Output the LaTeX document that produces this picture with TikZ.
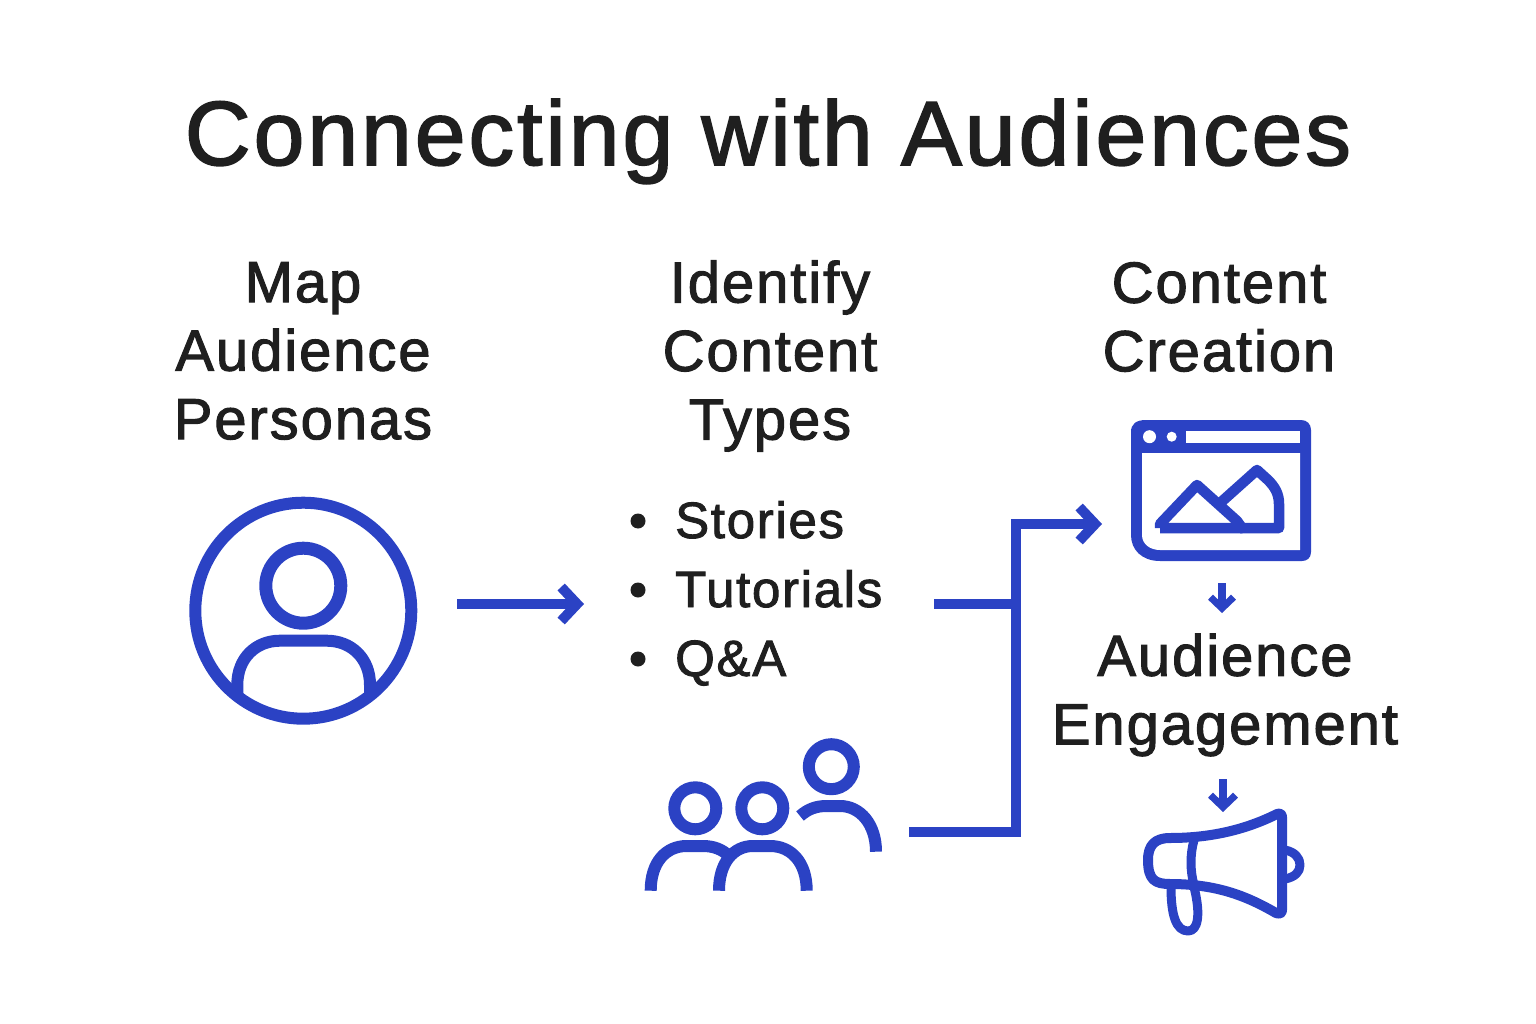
\documentclass[tikz,border=0pt]{standalone}
\usepackage{fontspec}
\setmainfont[FakeBold=1.8,LetterSpace=3.3]{Liberation Sans}
\usetikzlibrary{arrows.meta,positioning}
\definecolor{iconblue}{RGB}{43,66,196}
\definecolor{inkgray}{RGB}{31,31,31}

\begin{document}
\begin{tikzpicture}[
    x=1pt,
    y=-1pt,
    node distance=69pt,
    >={Straight Barb[length=16pt,width=34pt,line width=10pt]},
    title/.style={
		font=\fontsize{91.2}{96}\selectfont,
		text=inkgray,
		anchor=base,
		inner sep=0pt
	},
	head/.style={
		font=\fontsize{58}{68.5}\selectfont,
		text=inkgray,
		align=center,
		inner sep=0pt
	},
	item/.style={
		font=\fontsize{51}{60}\selectfont,
		text=inkgray,
		anchor=base west,
		inner sep=0pt
	},
	bullet/.style={
		circle,
		fill=inkgray,
		minimum size=15pt,
		inner sep=0pt
	},
	icon/.style={
		draw=iconblue,
		line width=12pt,
		line join=round
	},
	flow/.style={
		draw=iconblue,
		line width=9.5pt,
		line join=miter
	},
	small/.style={
		draw=iconblue,
		line width=8.5pt
	}
  ]

 \useasboundingbox (0,0) rectangle (1536,1024);

 \node [title] (title) at (768,165) {Connecting with Audiences};

 % // The three headings
 \node [head] (map) at (303,351) {Map\\Audience\\Personas};
 \node [head] (identify) at (770,356) {Identify\\Content\\Types};
 \node [head] (creation) at (1219,317) {Content\\Creation};
 \node [head] (engagement) at (1225,695) {Audience\\Engagement};

 % // The list
 \node [item] (stories) at (675,538) {Stories};
 \node [item] (tutorials) at (675,607) {Tutorials};
 \node [item] (qa) at (675,676) {Q\&A};
 \node [bullet] (b1) at (638,521) {};
 \node [bullet, below of=b1] (b2) {};
 \node [bullet, below of=b2] (b3) {};

 % // The persona
 \node [circle, icon, minimum size=216pt, inner sep=0pt] (persona) at (303.3,610.7) {};
 \node [circle, icon, line width=13pt, minimum size=75pt, inner sep=0pt] (personahead) at (303.3,585.7) {};
 \draw [icon, line width=12pt] (237.3,695) -- (237.3,685) .. controls (237.3,658) and (256,640.7) .. (280,640.7)
    -- (326.7,640.7) .. controls (351,640.7) and (370,658) .. (370,685) -- (370,695);

 % // The group of people
 \node [circle, icon, minimum size=42pt, inner sep=0pt] (headA) at (695.3,808.3) {};
 \node [circle, icon, minimum size=42pt, inner sep=0pt] (headB) at (762.3,808.3) {};
 \node [circle, icon, minimum size=45pt, inner sep=0pt] (headC) at (831.3,766.7) {};
 \draw [icon] (650.7,890.7) .. controls (650.7,862) and (666,846) .. (686.7,846)
    -- (703,846) .. controls (713,846) and (722,849) .. (729,856);
 \draw [icon] (719,890.7) .. controls (719,862) and (734,846) .. (753,846)
    -- (770,846) .. controls (791,846) and (806.7,862) .. (806.7,890.7);
 \draw [icon] (800,816) .. controls (808,809) and (816,806) .. (826.7,806)
    -- (840,806) .. controls (860,806) and (876,824) .. (876,851.7);

 % // The browser window
 \fill [iconblue] (1131,432) .. controls (1131,424) and (1136,420) .. (1146,420) -- (1301,420)
    .. controls (1307,420) and (1311,424) .. (1311,430) -- (1311,552) .. controls (1311,558) and (1307,561) .. (1302,561)
    -- (1160,561) .. controls (1142,561) and (1131,550) .. (1131,535) -- cycle;
 \fill [white] (1142,453) -- (1300,453) -- (1300,550) -- (1160,550) .. controls (1150,550) and (1142,544) .. (1142,535) -- cycle;
 \fill [white] (1186,431) rectangle (1300,443);
 \fill [white] (1149.5,436.7) circle [radius=6.5];
 \fill [white] (1171.7,436.7) circle [radius=5];
 \draw [icon, line width=10.5pt] (1160,528) -- (1160,524) -- (1197,485) -- (1237,521) -- (1242,528) -- (1160,528);
 \draw [icon, line width=10.5pt] (1219,504) -- (1257,470) -- (1268,480) .. controls (1275,487) and (1279,494) .. (1279,504)
    -- (1279,528) -- (1240,528);

 % // The megaphone
 \draw [icon, line width=10pt] (1170,838) .. controls (1210,838) and (1245,830) .. (1277,814)
    .. controls (1280,813) and (1282,814) .. (1282,817) -- (1282,910) .. controls (1282,914) and (1279,914) .. (1276,913)
    .. controls (1245,895) and (1215,884) .. (1170,884) .. controls (1155,884) and (1148,880) .. (1148,860)
    .. controls (1148,845) and (1155,838) .. (1170,838) -- cycle;
 \draw [icon, line width=9pt] (1194,840) .. controls (1190,855) and (1190,870) .. (1194,885);
 \draw [icon, line width=9pt] (1171,887) .. controls (1171,915) and (1176,931) .. (1188,931)
    .. controls (1198,931) and (1201,915) .. (1194,887);
 \draw [icon, line width=9pt] (1285,850) .. controls (1295,852) and (1300,858) .. (1300,865)
    .. controls (1300,872) and (1295,877) .. (1285,879);

 % // The connectors
 \coordinate (listout) at (934,604);
 \coordinate (joinA) at (1016,604);
 \coordinate (peopleout) at (909,832);
 \coordinate (joinB) at (1016,832);
 \coordinate (joinC) at (1016,524);
 \coordinate (windowin) at (1102,524);
 \coordinate (personaout) at (457,604);
 \coordinate (listin) at (584,604);
 \draw [flow, ->] (personaout) -- (listin);
 \draw [flow] (listout) -- (joinA);
 \draw [flow, ->] (peopleout) -- (joinB) -- (joinC) -- (windowin);

 \coordinate (windowout) at (1222,583);
 \coordinate (audiencein) at (1222,613);
 \coordinate (audienceout) at (1223,779);
 \coordinate (hornin) at (1223,812);
 \draw [small, -{Straight Barb[length=11pt,width=23pt,line width=7pt]}] (windowout) -- (audiencein);
 \draw [small, -{Straight Barb[length=12pt,width=25pt,line width=7pt]}] (audienceout) -- (hornin);

\end{tikzpicture}
\end{document}
